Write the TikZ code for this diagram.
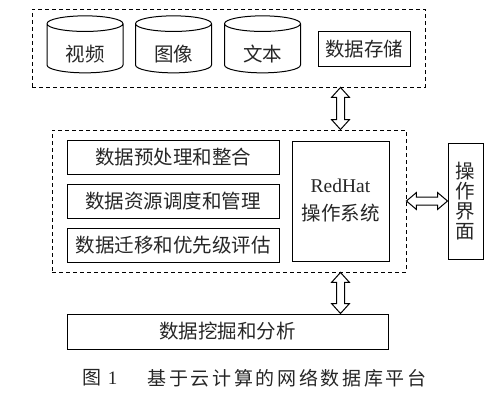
\documentclass[tikz,border=0pt]{standalone}
\usepackage{fontspec}
\setmainfont{Liberation Serif}
\newfontfamily\cjk{Noto Sans CJK SC}
\newfontfamily\cjkcap[LetterSpace=14]{Noto Sans CJK SC}
\usetikzlibrary{positioning, shapes.geometric, calc}

\tikzset{
    box/.style={draw, line width=1pt, inner sep=0pt, align=center},
    group/.style={draw, line width=0.9pt, dash pattern=on 4pt off 3pt, inner sep=0pt},
    drum/.style={draw, line width=1pt, cylinder, shape border rotate=90, aspect=0.4, inner sep=0pt,
        minimum width=76pt, minimum height=57pt},
    hollowarrow/.style={draw, line width=1pt, fill=white, line join=miter}
}
% text lowered into the body of a drum
\newcommand{\drumtext}[1]{\raisebox{-6pt}[\height][\depth]{#1}}
% hollow double arrows between two points
\newcommand{\vdarrow}[2]{\draw[hollowarrow] (#1) -- ++(9,10) -- ++(-5,0) -- ($(#2)+(4,-10)$) -- ++(5,0) -- (#2) -- ++(-9,-10) -- ++(5,0) -- ($(#1)+(-4,10)$) -- ++(-5,0) -- cycle;}
\newcommand{\hdarrow}[2]{\draw[hollowarrow] (#1) -- ++(10,-8.5) -- ++(0,4.5) -- ($(#2)+(-10,-4)$) -- ++(0,-4.5) -- (#2) -- ++(-10,8.5) -- ++(0,-4.5) -- ($(#1)+(10,4)$) -- ++(0,4.5) -- cycle;}

\begin{document}
\begin{tikzpicture}[x=1pt, y=-1pt, font=\fontsize{19.5}{20}\selectfont\cjk, text=black!85]
    \useasboundingbox (0,0) rectangle (500,404);

    % storage layer
    \node (Storage) [group, minimum width=393pt, minimum height=78pt] at (228.5,48) {};
    \node (Video) [drum] at (85,48.5) {\drumtext{视频}};
    \node (Image) [drum] at (173.5,48.5) {\drumtext{图像}};
    \node (Text) [drum] at (262.5,48.5) {\drumtext{文本}};
    \node (DataStore) [box, minimum width=92pt, minimum height=34pt] at (364,49) {数据存储};

    % processing layer
    \node (Middle) [group, minimum width=354pt, minimum height=142pt] at (229,201) {};
    \node (Preprocess) [box, minimum width=212pt, minimum height=34pt] at (173,157.5) {数据预处理和整合};
    \node (Schedule) [box, minimum width=212pt, minimum height=34pt, below=9pt of Preprocess] {数据资源调度和管理};
    \node (Migrate) [box, minimum width=212pt, minimum height=34pt, below=9pt of Schedule] {数据迁移和优先级评估};
    \node (RedHat) [box, minimum width=97pt, minimum height=120pt] at (340.5,201) {\rmfamily RedHat\\[8pt]操作系统};
    \node (UI) [box, minimum width=35pt, minimum height=116pt] at (465.5,201) {操\\作\\界\\面};

    % analysis layer
    \node (Mining) [box, minimum width=321pt, minimum height=35pt] at (227.5,331.5) {数据挖掘和分析};

    % caption
    \node (FigNo) at (100,378) {\fontsize{19}{19}\selectfont 图\hspace{6pt}\rmfamily 1};
    \node (Caption) at (287,378) {\fontsize{19}{19}\selectfont\cjkcap 基于云计算的网络数据库平台};

    % arrows
    \vdarrow{Storage.south -| RedHat.center}{Middle.north -| RedHat.center}
    \hdarrow{Middle.east |- UI.center}{UI.west}
    \vdarrow{Middle.south -| RedHat.center}{Mining.north -| RedHat.center}

\end{tikzpicture}
\end{document}
